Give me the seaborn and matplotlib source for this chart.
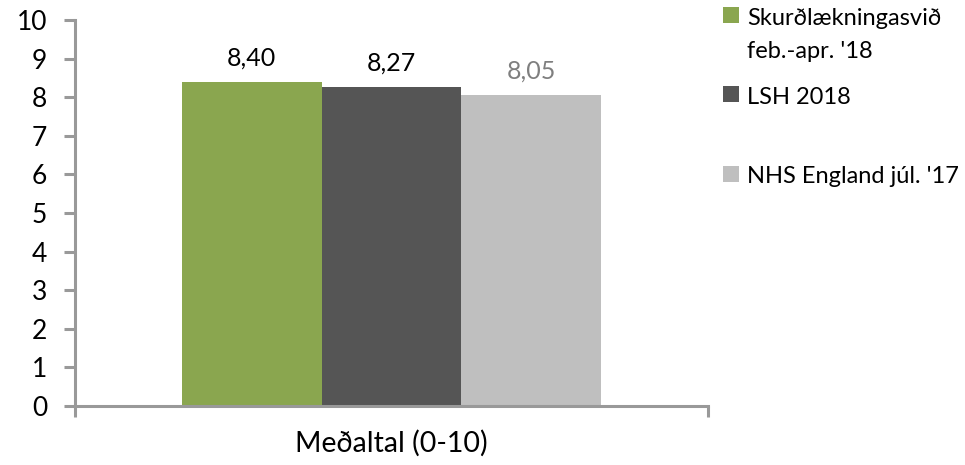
import matplotlib
matplotlib.use("Agg")
import matplotlib.pyplot as plt
import seaborn as sns
import pandas as pd
from matplotlib.patches import Patch, Rectangle
from matplotlib.legend_handler import HandlerPatch

category = ["Meðaltal (0-10)"]
series = ["Skurðlækningasvið\nfeb.-apr. '18", "LSH 2018", "NHS England júl. '17"]
values = [8.40, 8.27, 8.05]
colors = ["#8AA64F", "#555555", "#BFBFBF"]
label_colors = ["#000000", "#000000", "#7F7F7F"]

sns.set_theme(style="white")
plt.rcParams["font.family"] = ["Lato", "DejaVu Sans"]
plt.rcParams["text.color"] = "black"
plt.rcParams["xtick.labelcolor"] = "black"
plt.rcParams["ytick.labelcolor"] = "black"

df = pd.DataFrame({"cat": category * len(series), "series": series, "value": values})

fig = plt.figure(figsize=(9.65, 4.65), dpi=100)
ax = fig.add_axes([0.0777, 0.127, 0.656, 0.83])

sns.barplot(data=df, x="cat", y="value", hue="series", palette=colors,
            width=0.663, saturation=1, linewidth=0, ax=ax, legend=False)

for cont, c in zip(ax.containers, label_colors):
    ax.bar_label(cont, labels=[f"{v:.2f}".replace(".", ",") for v in cont.datavalues],
                 padding=9, fontsize=18, color=c)

ax.set_ylim(0, 10)
ax.set_xlim(-0.5, 0.5)
ax.set_yticks(range(0, 11))
ax.set_xticks([-0.5, 0.5], labels=["", ""])
ax.set_xticks([0], labels=category, minor=True, fontsize=20.5)
ax.tick_params(axis="x", which="major", direction="out", length=8, width=2.2,
               color="#999999", bottom=True)
ax.tick_params(axis="x", which="minor", length=0, pad=17)
ax.tick_params(axis="y", direction="out", length=8, width=2.2, color="#999999",
               left=True, labelsize=19, pad=12)
for s in ["top", "right"]:
    ax.spines[s].set_visible(False)
for s in ["left", "bottom"]:
    ax.spines[s].set_color("#999999")
    ax.spines[s].set_linewidth(2.2)
ax.set_xlabel("")
ax.set_ylabel("")

# legend: squares sit beside the first line of each label
fs = 17
legend_labels = [series[0], series[1] + "\n ", series[2]]
shifts = [0.85, 0.85, 0.0]


def make_handler(shift):
    def patch_func(legend, orig_handle, xdescent, ydescent, width, height, fontsize):
        return Rectangle((-xdescent, -ydescent + shift * fontsize), width, height)
    return HandlerPatch(patch_func=patch_func)


handles = [Patch(facecolor=c, edgecolor="none") for c in colors]
leg = ax.legend(handles=handles, labels=legend_labels, loc="upper left",
                bbox_to_anchor=(1.009, 1.055), frameon=False, fontsize=fs,
                handlelength=0.65, handleheight=0.65, handletextpad=0.35,
                labelspacing=1.05, borderaxespad=0,
                handler_map={h: make_handler(s) for h, s in zip(handles, shifts)})
for t in leg.get_texts():
    t.set_linespacing(1.7)

fig.savefig("out.png", dpi=100)
